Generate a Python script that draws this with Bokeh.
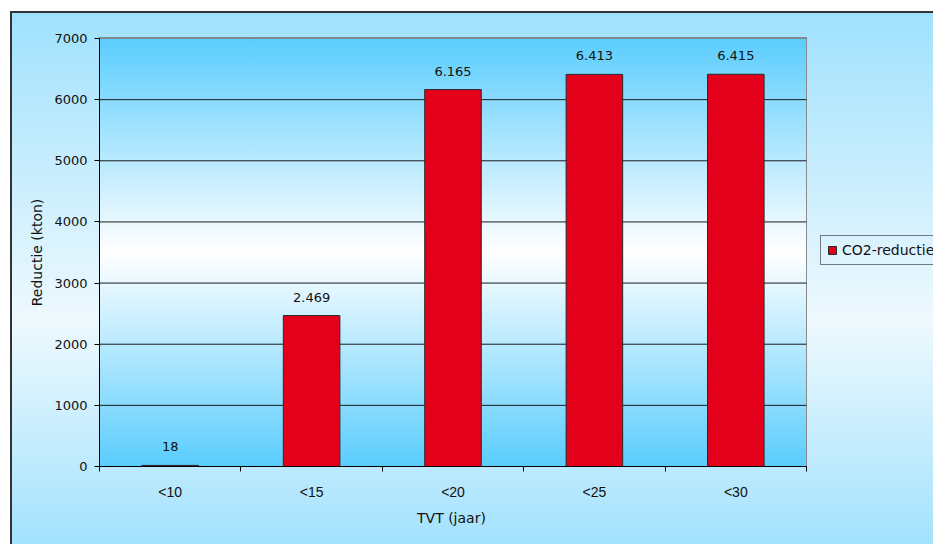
from bokeh.plotting import figure
from bokeh.models import ColumnDataSource, FixedTicker, Legend, LegendItem, Range1d, LabelSet, Title
from bokeh.core.properties import value
from bokeh.embed import file_html
from bokeh.resources import INLINE

categories = ["<10", "<15", "<20", "<25", "<30"]
reductie = [18, 2469, 6165, 6413, 6415]
y_ticks = [0, 1000, 2000, 3000, 4000, 5000, 6000, 7000]
series_name = "CO2-reductie"
x_title = "TVT (jaar)"
y_title = "Reductie (kton)"

ncat = len(categories)
xpos = [i + 0.5 for i in range(ncat)]
labels = [f"{v:,}".replace(",", ".") for v in reductie]
src = ColumnDataSource(dict(x=xpos, top=reductie, lab=labels))

W, H = 933, 544
FL, FT, FR, FB = 99, 38, 806, 466   # visible plot area in the reference
# frame spans to the right edge so the legend (outside the plot area) isn't clipped
x_end = ncat * (W - FL) / (FR - FL)

p = figure(width=W, height=H, output_backend="svg", toolbar_location=None,
           x_range=Range1d(0, x_end), y_range=Range1d(0, y_ticks[-1]),
           min_border_left=FL, min_border_top=FT, min_border_right=0,
           min_border_bottom=H - FB)
p.background_fill_alpha = 0
p.border_fill_alpha = 0
p.outline_line_color = None

p.styles = {
    "background": (
        # outer chart border (top, left)
        "linear-gradient(#333,#333) 10px 11px / 923px 2px no-repeat,"
        "linear-gradient(#333,#333) 10px 11px / 2px 533px no-repeat,"
        # plot-area border (top, right)
        f"linear-gradient(#7f8a90,#7f8a90) {FL}px {FT-1}px / {FR-FL+1}px 2px no-repeat,"
        f"linear-gradient(#8a8a8a,#8a8a8a) {FR}px {FT}px / 1px {FB-FT}px no-repeat,"
        # plot-area gradient
        f"linear-gradient(to bottom, #5acdfd 0%, #ffffff 50%, #5acdfd 100%) {FL}px {FT}px / {FR-FL}px {FB-FT}px no-repeat,"
        # chart-area gradient
        "linear-gradient(to bottom, #9fe1fd 0%, #eef9fe 58%, #a3e2fd 100%) 10px 11px / 923px 533px no-repeat,"
        "#ffffff"
    )
}

# horizontal grid lines limited to the category area
grid_y = y_ticks[1:-1]
p.segment(x0=[0] * len(grid_y), x1=[ncat] * len(grid_y), y0=grid_y, y1=grid_y,
          line_color="#1a1a1a", line_width=1)

r = p.vbar(x="x", top="top", width=0.4, bottom=0, source=src,
           fill_color="#e2001a", line_color="#2a2a2a", line_width=1)

p.add_layout(LabelSet(x="x", y="top", text="lab", source=src, text_align="center",
                      text_baseline="bottom", y_offset=14, text_font=value("DejaVu Sans"),
                      text_font_size=value("13px"), text_color="#111111"))

# axes
p.xaxis.ticker = FixedTicker(ticks=xpos, minor_ticks=list(range(ncat + 1)))
p.xaxis.bounds = (0, ncat)
p.xaxis.major_label_overrides = {x: c for x, c in zip(xpos, categories)}
p.xaxis.major_tick_out = 0
p.xaxis.major_tick_in = 0
p.xaxis.minor_tick_out = 5
p.xaxis.minor_tick_in = 0
p.xaxis.major_label_standoff = 12
p.xaxis.major_label_text_font = "Liberation Sans"
p.xaxis.major_label_text_font_size = "14px"

p.yaxis.ticker = FixedTicker(ticks=y_ticks)
p.yaxis.major_tick_out = 5
p.yaxis.major_tick_in = 0
p.yaxis.minor_tick_out = 0
p.yaxis.minor_tick_in = 0
p.yaxis.major_label_standoff = 7
p.yaxis.axis_label = y_title
p.yaxis.axis_label_standoff = 6
p.yaxis.major_label_text_font = "DejaVu Sans"
p.yaxis.major_label_text_font_size = "13px"

for ax in (p.xaxis[0], p.yaxis[0]):
    ax.axis_line_color = "#000000"
    ax.major_tick_line_color = "#000000"
    ax.minor_tick_line_color = "#000000"
    ax.major_label_text_color = "#111111"
    ax.axis_label_text_font = "DejaVu Sans"
    ax.axis_label_text_font_size = "14px"
    ax.axis_label_text_font_style = "normal"
    ax.axis_label_text_color = "#111111"

# x axis title centred under the category area (not the widened frame)
p.add_layout(Title(text=x_title, align="left", offset=(FL + FR) / 2 - FL - 36,
                   text_font="DejaVu Sans", text_font_size="14px",
                   text_font_style="normal", text_color="#111111", standoff=10), "below")

p.xgrid.grid_line_color = None
p.ygrid.grid_line_color = None

legend = Legend(items=[LegendItem(label=series_name, renderers=[r])],
                location=(820 - FL, FB - 265), orientation="vertical",
                border_line_color="#000000", border_line_width=1,
                background_fill_alpha=0, glyph_width=10, glyph_height=10,
                label_text_font="DejaVu Sans", label_text_font_size="14px",
                label_text_color="#111111", padding=6, margin=0,
                label_standoff=5, label_height=14)
p.add_layout(legend, "center")

open("out.html", "w").write(file_html(p, INLINE))
